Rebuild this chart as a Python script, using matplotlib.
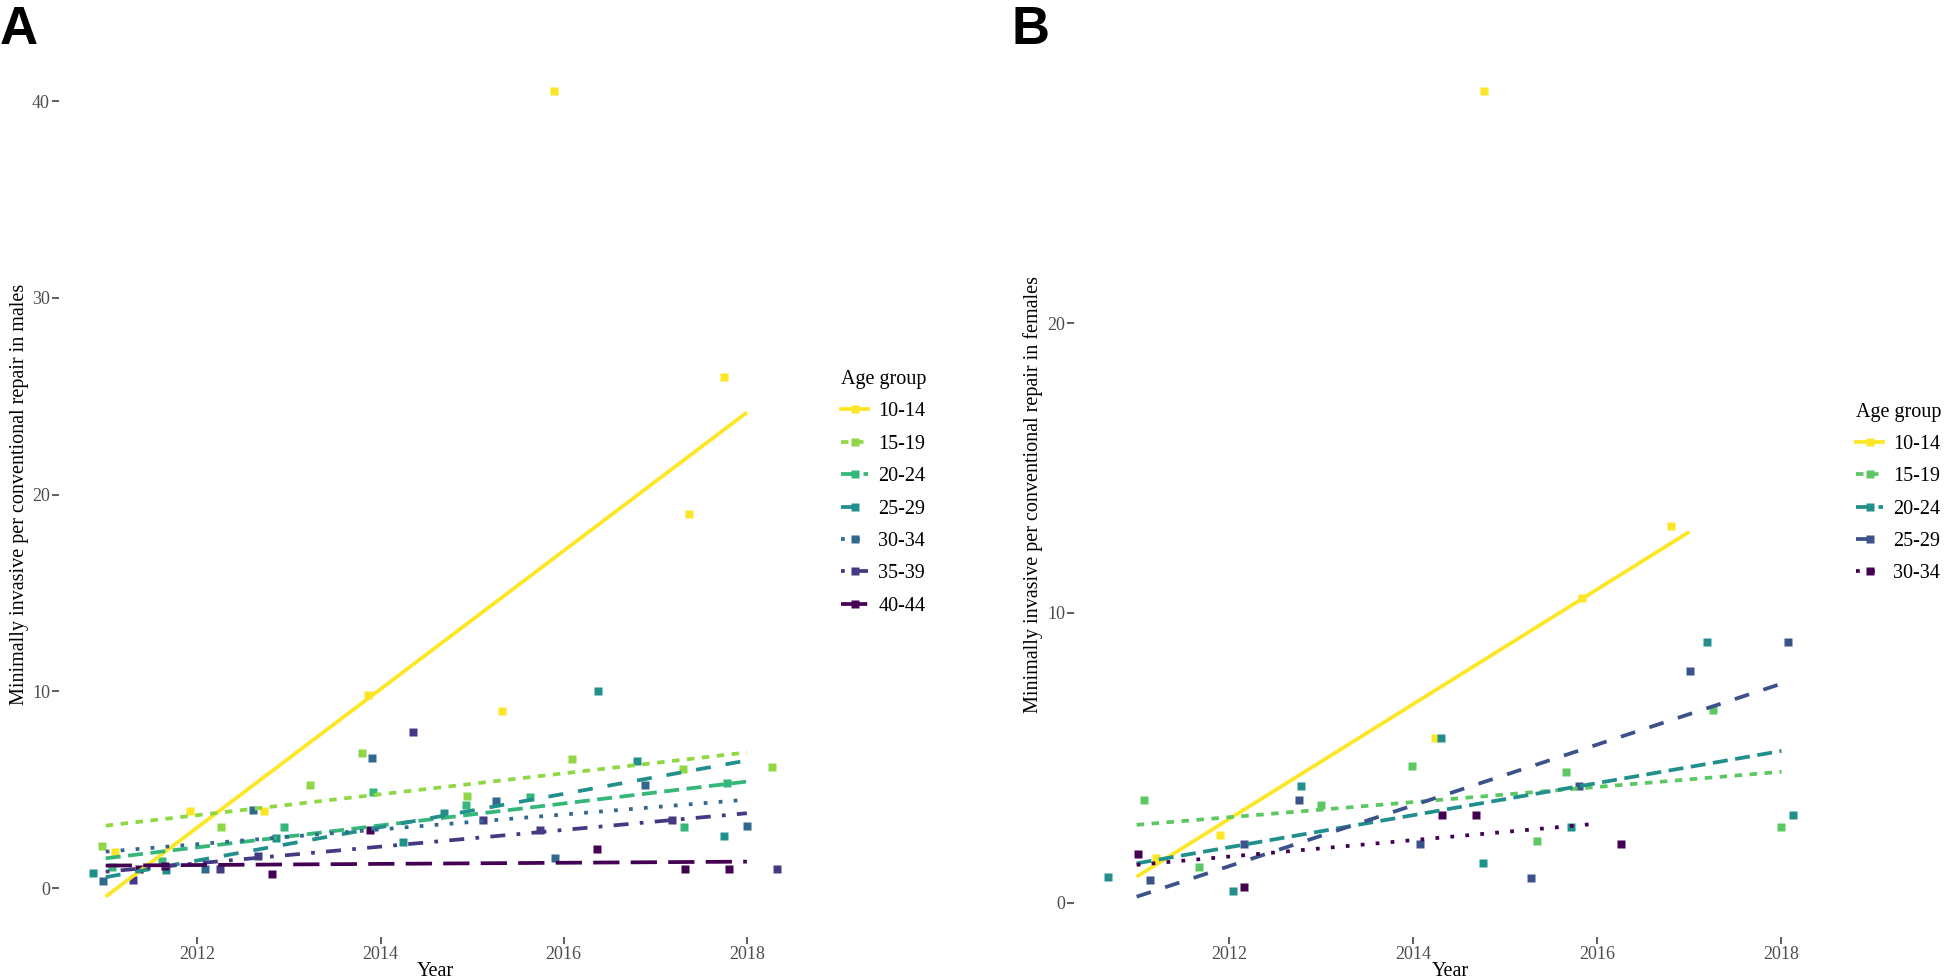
import matplotlib
matplotlib.use('Agg')
import matplotlib.pyplot as plt
from matplotlib.lines import Line2D

plt.rcParams['font.family'] = ['Liberation Serif', 'DejaVu Serif']

# ---------------- data: males (panel A) ----------------
m_groups = ['10-14', '15-19', '20-24', '25-29', '30-34', '35-39', '40-44']
m_colors = ['#FDE725', '#8FD744', '#35B779', '#21908C', '#31688E', '#443A83', '#440154']
m_x = [
    [2011.10, 2011.92, 2012.73, 2013.86, 2015.33, 2015.89, 2017.37, 2017.75],
    [2010.96, 2012.26, 2013.23, 2013.80, 2014.94, 2016.09, 2017.30, 2018.27],
    [2011.07, 2011.61, 2012.95, 2013.92, 2014.93, 2015.63, 2017.31, 2017.78],
    [2010.86, 2011.66, 2012.86, 2014.25, 2014.69, 2016.37, 2016.80, 2017.75],
    [2010.97, 2012.08, 2012.61, 2013.91, 2015.26, 2015.90, 2016.89, 2018.00],
    [2011.30, 2012.25, 2012.66, 2014.36, 2015.12, 2015.74, 2017.18, 2018.33],
    [2011.36, 2011.65, 2012.82, 2013.88, 2016.36, 2017.32, 2017.81],
]
m_y = [
    [1.86, 3.90, 3.90, 9.83, 9.00, 40.5, 19.0, 26.0],
    [2.17, 3.13, 5.25, 6.86, 4.71, 6.56, 6.05, 6.15],
    [1.07, 1.40, 3.13, 4.88, 4.23, 4.66, 3.13, 5.34],
    [0.79, 0.93, 2.54, 2.37, 3.81, 10.0, 6.49, 2.67],
    [0.39, 0.97, 3.98, 6.64, 4.45, 1.56, 5.22, 3.18],
    [0.42, 0.97, 1.64, 7.96, 3.47, 2.96, 3.47, 0.97],
    [0.97, 1.15, 0.71, 2.96, 1.98, 0.97, 0.97],
]
m_fit_x0 = [2011, 2011, 2011, 2011, 2011, 2011, 2011]
m_fit_x1 = [2018, 2018, 2018, 2018, 2018, 2018, 2018]
m_fit_y0 = [-0.43, 3.18, 1.52, 0.56, 1.86, 0.84, 1.15]
m_fit_y1 = [24.18, 6.90, 5.42, 6.49, 4.50, 3.81, 1.35]

# ---------------- data: females (panel B) ----------------
f_groups = ['10-14', '15-19', '20-24', '25-29', '30-34']
f_colors = ['#FDE725', '#5DC863', '#21908C', '#3B528B', '#440154']
f_x = [
    [2011.21, 2011.91, 2014.24, 2014.77, 2015.83, 2016.80],
    [2011.08, 2011.68, 2013.00, 2013.99, 2015.35, 2015.66, 2017.26, 2017.99],
    [2010.69, 2012.05, 2012.78, 2014.30, 2014.76, 2015.72, 2017.19, 2018.13],
    [2011.15, 2012.17, 2012.76, 2014.08, 2015.28, 2015.80, 2017.01, 2018.07],
    [2011.01, 2012.17, 2014.31, 2014.68, 2016.26],
]
f_y = [
    [1.54, 2.34, 5.68, 28.0, 10.5, 13.0],
    [3.53, 1.22, 3.37, 4.72, 2.14, 4.52, 6.66, 2.63],
    [0.90, 0.41, 4.02, 5.68, 1.36, 2.63, 9.00, 3.02],
    [0.78, 2.02, 3.53, 2.02, 0.86, 4.03, 8.00, 9.00],
    [1.70, 0.53, 3.02, 3.02, 2.02],
]
f_fit_x0 = [2011, 2011, 2011, 2011, 2011]
f_fit_x1 = [2017, 2018, 2018, 2018, 2016]
f_fit_y0 = [0.90, 2.69, 1.36, 0.21, 1.31]
f_fit_y1 = [12.80, 4.52, 5.24, 7.56, 2.73]

x_ticks = [2012, 2014, 2016, 2018]
m_y_ticks = [0, 10, 20, 30, 40]
f_y_ticks = [0, 10, 20]

# ggplot-like linetypes: solid, 22, 42, 44, 13, 1343, 73
linestyles = ['-', (0, (2, 2)), (0, (4, 2)), (0, (4, 4)), (0, (1, 3)),
              (0, (1, 3, 4, 3)), (0, (7, 3))]

W, H = 1952, 980
fig = plt.figure(figsize=(W / 100, H / 100), dpi=100)

LW = 2.7
MS = 5.2
TICK_COLOR = '#333333'
TICKLABEL_COLOR = '#4D4D4D'


def panel(ax, xs, ys, fx0, fx1, fy0, fy1, colors, groups, xlim, ylim, yticks,
          ylabel, label_x, leg_anchor):
    for i in range(len(groups)):
        ax.plot(xs[i], ys[i], linestyle='none', marker='s', ms=MS,
                mec='none', color=colors[i], zorder=2)
    for i in range(len(groups)):
        ax.plot([fx0[i], fx1[i]], [fy0[i], fy1[i]], color=colors[i], lw=LW,
                linestyle=linestyles[i], dash_capstyle='butt',
                solid_capstyle='butt', zorder=3)
    ax.set_xlim(*xlim)
    ax.set_ylim(*ylim)
    ax.set_xticks(x_ticks)
    ax.set_yticks(yticks)
    for s in ax.spines.values():
        s.set_visible(False)
    ax.tick_params(axis='both', direction='out', length=5, width=1.1,
                   color=TICK_COLOR, labelcolor=TICKLABEL_COLOR,
                   labelsize=13, pad=1.5)
    ax.set_xlabel('Year', fontsize=14.5, color='black', labelpad=-1)
    ax.set_ylabel(ylabel, fontsize=14.5, color='black')
    ax.yaxis.set_label_coords(label_x, 0.5)
    handles = [Line2D([], [], color=colors[i], lw=LW, linestyle=linestyles[i],
                      marker='s', ms=MS, mec='none', dash_capstyle='butt')
               for i in range(len(groups))]
    leg = ax.legend(handles, groups, title='Age group', loc='upper left',
                    bbox_to_anchor=leg_anchor, bbox_transform=fig.transFigure,
                    frameon=False, fontsize=14.5, title_fontsize=14.5,
                    handlelength=1.35, handletextpad=0.5, labelspacing=0.66,
                    borderpad=0, borderaxespad=0, alignment='left')
    return leg


bottom = 1 - 937 / H
height = (937 - 51) / H

axA = fig.add_axes([59 / W, bottom, (811 - 59) / W, height])
panel(axA, m_x, m_y, m_fit_x0, m_fit_x1, m_fit_y0, m_fit_y1, m_colors, m_groups,
      (2010.49, 2018.70), (-2.48, 42.55), m_y_ticks,
      'Minimally invasive per conventional repair in males', -0.040,
      (841 / W, 1 - 370 / H))

axB = fig.add_axes([1074 / W, bottom, (1827.5 - 1074) / W, height])
panel(axB, f_x, f_y, f_fit_x0, f_fit_x1, f_fit_y0, f_fit_y1, f_colors, f_groups,
      (2010.32, 2018.50), (-1.18, 29.39), f_y_ticks,
      'Minimally invasive per conventional repair in females', -0.041,
      (1856 / W, 1 - 402.5 / H))

fig.text(0 / W, 1 - 44 / H, 'A', fontsize=38, fontweight='bold',
         family=['Liberation Sans', 'DejaVu Sans'], ha='left', va='baseline')
fig.text(1011 / W, 1 - 44 / H, 'B', fontsize=38, fontweight='bold',
         family=['Liberation Sans', 'DejaVu Sans'], ha='left', va='baseline')

fig.savefig('out.png', dpi=100)
